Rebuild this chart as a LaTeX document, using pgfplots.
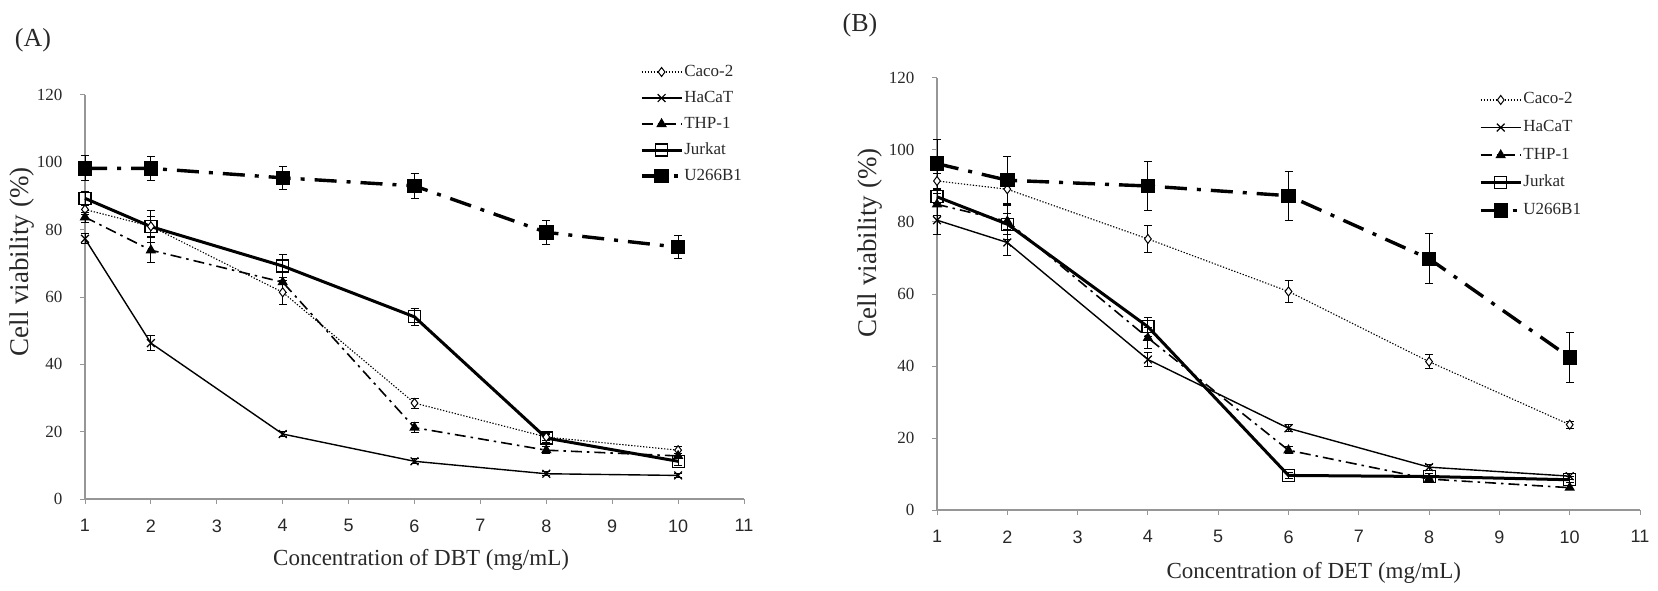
\documentclass[border=0pt]{standalone}
\usepackage{fontspec}
\setmainfont{Liberation Serif}
\newfontfamily\sansf{Liberation Sans}
\usepackage{pgfplots}
\pgfplotsset{compat=1.18}
\definecolor{axgray}{RGB}{150,150,150}
\definecolor{txtgray}{RGB}{40,40,40}
\pgfplotsset{
  caco/.style={black, line width=1.1pt, dash pattern=on 1.3pt off 1.7pt, mark=diamond*, mark size=4.5pt, mark options={solid, fill=white, line width=1pt}},
  hacat/.style={black, line width=1.4pt, solid, mark=x, mark size=5.5pt, mark options={solid, line width=1.2pt}},
  thp/.style={black, line width=1.6pt, dash pattern=on 11pt off 5pt on 2.5pt off 5pt, mark=triangle*, mark size=4.5pt, mark options={solid, fill=black}},
  jurkat/.style={black, line width=3pt, solid, mark=square, mark size=6pt, mark options={solid, fill=white, line width=1.2pt}},
  u266/.style={black, line width=3.4pt, dash pattern=on 22pt off 10pt on 4pt off 10pt, mark=square*, mark size=5.5pt, mark options={solid, fill=black}},
  panel/.style={
    scale only axis, anchor=south west,
    xmin=1, xmax=11, ymin=0, ymax=120, enlargelimits=false, clip=false,
    axis x line=bottom, axis y line=left,
    axis line style={-, axgray, line width=1.2pt},
    xtick={1,2,...,11}, ytick={0,20,...,120},
    tick align=outside, major tick length=5pt,
    tick style={axgray, line width=1pt},
    /pgf/number format/assume math mode=true,
    xticklabel style={font=\sansf\fontsize{18}{20}\selectfont, text=txtgray, yshift=-12pt},
    yticklabel style={font=\fontsize{17}{20}\selectfont, text=txtgray, xshift=-14pt},
    xlabel style={font=\fontsize{23}{26}\selectfont, text=txtgray},
    ylabel style={font=\fontsize{27}{30}\selectfont, text=txtgray},
    legend cell align=left,
    legend image code/.code={\draw[mark repeat=2,mark phase=2,##1] plot coordinates {(0pt,0pt) (20pt,0pt) (40pt,0pt)};},
    error bars/y dir=both, error bars/y explicit,
    error bars/error bar style={solid, line width=1pt, black},
    error bars/error mark options={rotate=90, mark size=4pt, line width=1pt, solid},
  },
}
\begin{document}
\begin{tikzpicture}[x=1pt,y=1pt]
\path (0,0) rectangle (1658,590);
\node[font=\fontsize{26}{28}\selectfont, text=txtgray] at (33,550) {(A)};
\node[font=\fontsize{26}{28}\selectfont, text=txtgray] at (860,565) {(B)};
\begin{axis}[panel, at={(85pt,91pt)}, width=659pt, height=404pt,
  xlabel={Concentration of DBT (mg/mL)}, ylabel={Cell viability (\%)},
  xlabel style={at={(axis description cs:0.51,-0.151)}, anchor=center},
  ylabel style={at={(axis description cs:-0.0956,0.587)}, anchor=center},
  legend style={at={(axis cs:9.42,129.5)}, anchor=north west, draw=none, fill=none, inner sep=0pt, outer sep=0pt,
    font=\fontsize{17}{20}\selectfont, text=txtgray,
    nodes={inner sep=1pt, text height=12pt, text depth=4pt}, row sep=8pt},
]
\addplot+[caco] coordinates {(1,86) +- (0,1.5) (2,81) +- (0,3) (4,61.4) +- (0,3.5) (6,28.5) +- (0,1.5) (8,18.4) +- (0,1) (10,14.5) +- (0,1)};
\addlegendentry{Caco-2}
\addplot+[hacat] coordinates {(1,77.3) +- (0,1.5) (2,46.3) +- (0,2.2) (4,19.3) +- (0,0.8) (6,11.2) +- (0,0.8) (8,7.5) +- (0,0.6) (10,7) +- (0,0.6)};
\addlegendentry{HaCaT}
\addplot+[thp] coordinates {(1,83.7) +- (0,1.5) (2,73.9) +- (0,3.7) (4,64.4) +- (0,3) (6,21.2) +- (0,1.5) (8,14.5) +- (0,1) (10,12.8) +- (0,0.8)};
\addlegendentry{THP-1}
\addplot+[jurkat] coordinates {(1,89.3) +- (0,2) (2,80.9) +- (0,4.7) (4,69.2) +- (0,3.5) (6,54.1) +- (0,2.5) (8,18.1) +- (0,1.2) (10,11.2) +- (0,1.2)};
\addlegendentry{Jurkat}
\addplot+[u266] coordinates {(1,98.2) +- (0,3.7) (2,98.2) +- (0,3.6) (4,95.4) +- (0,3.5) (6,93) +- (0,3.6) (8,79.2) +- (0,3.5) (10,74.8) +- (0,3.5)};
\addlegendentry{U266B1}
\end{axis}
\begin{axis}[panel, at={(937pt,80pt)}, width=703pt, height=432pt,
  xlabel={Concentration of DET (mg/mL)}, ylabel={Cell viability (\%)},
  xlabel style={at={(axis description cs:0.536,-0.146)}, anchor=center},
  ylabel style={at={(axis description cs:-0.0953,0.618)}, anchor=center},
  legend style={at={(axis cs:8.71,116.4)}, anchor=north west, draw=none, fill=none, inner sep=0pt, outer sep=0pt,
    font=\fontsize{17}{20}\selectfont, text=txtgray,
    nodes={inner sep=1pt, text height=12pt, text depth=4pt}, row sep=9.6pt},
]
\addplot+[caco] coordinates {(1,91.4) +- (0,2) (2,89.1) +- (0,4.5) (4,75.3) +- (0,3.7) (6,60.7) +- (0,3) (8,41.2) +- (0,2) (10,23.7) +- (0,1)};
\addlegendentry{Caco-2}
\addplot+[hacat] coordinates {(1,80.5) +- (0,4) (2,74.3) +- (0,3.5) (4,41.8) +- (0,2) (6,22.7) +- (0,1) (8,11.9) +- (0,0.8) (10,9.4) +- (0,0.8)};
\addlegendentry{HaCaT}
\addplot+[thp] coordinates {(1,84.9) +- (0,3) (2,80.2) +- (0,5) (4,47.8) +- (0,3) (6,16.6) +- (0,1) (8,8.6) +- (0,0.8) (10,6.2) +- (0,0.6)};
\addlegendentry{THP-1}
\addplot+[jurkat] coordinates {(1,87) +- (0,2) (2,79.4) +- (0,3) (4,50.9) +- (0,2.6) (6,9.6) +- (0,0.8) (8,9.3) +- (0,0.8) (10,8.4) +- (0,0.8)};
\addlegendentry{Jurkat}
\addplot+[u266] coordinates {(1,96.2) +- (0,6.8) (2,91.6) +- (0,6.7) (4,90) +- (0,6.8) (6,87.3) +- (0,6.8) (8,69.8) +- (0,6.9) (10,42.4) +- (0,7)};
\addlegendentry{U266B1}
\end{axis}
\pgfresetboundingbox
\path (0,0) rectangle (1658,590);
\end{tikzpicture}
\end{document}
